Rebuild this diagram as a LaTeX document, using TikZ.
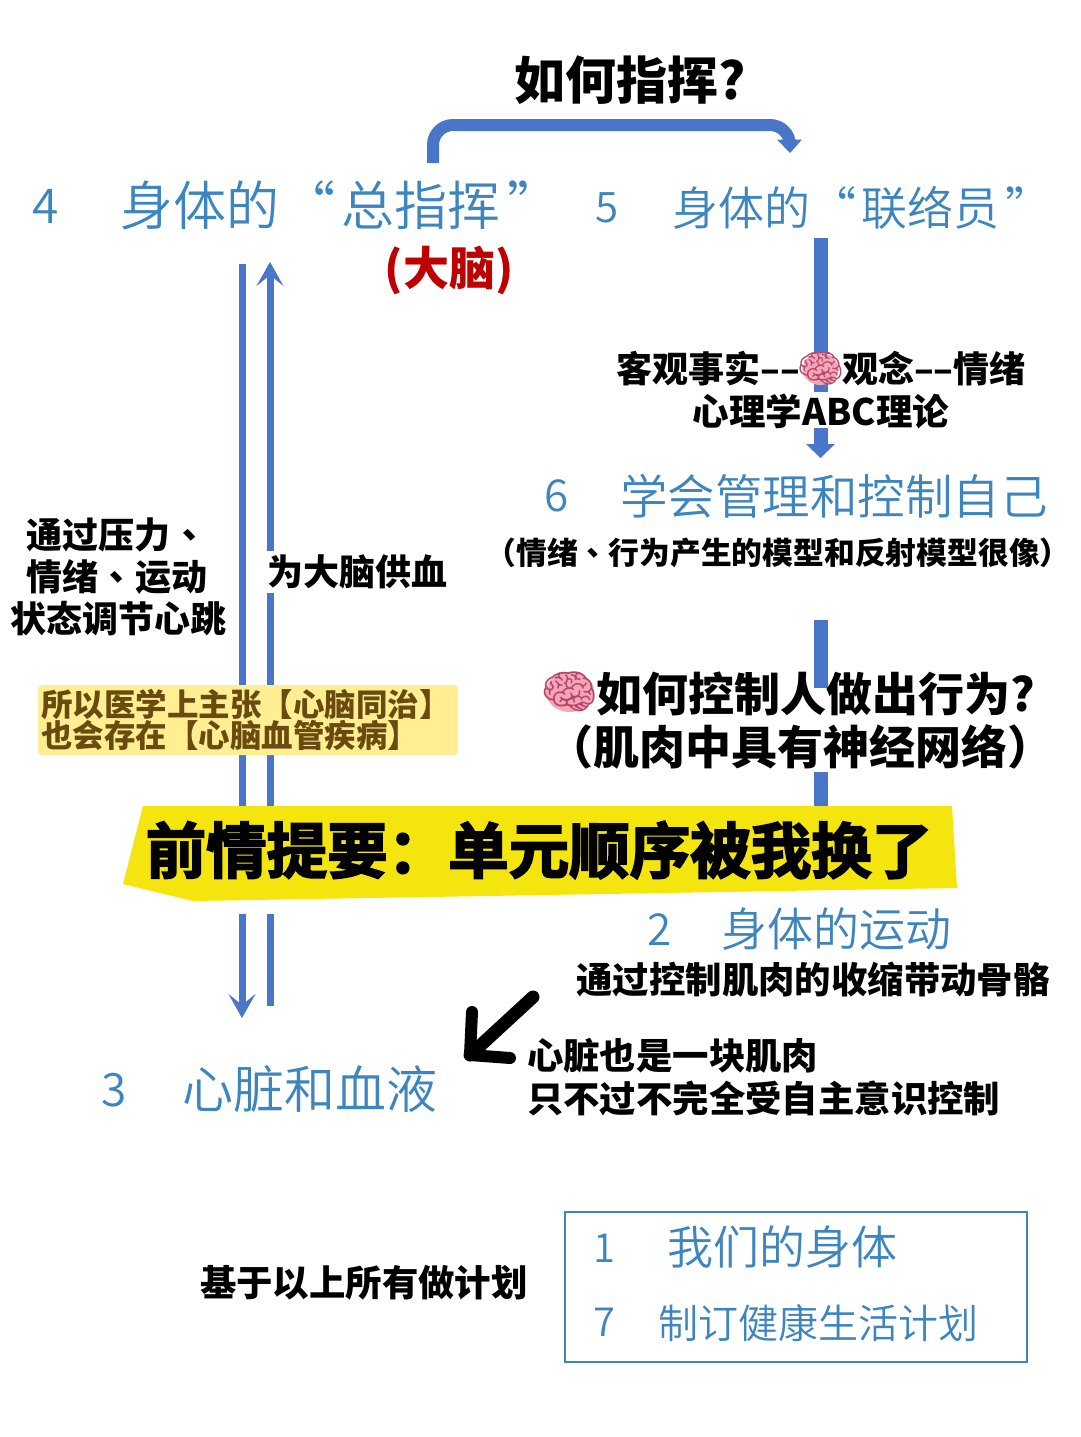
\documentclass[tikz,border=0pt]{standalone}
\usepackage{fontspec}
\usetikzlibrary{arrows.meta}
\newfontfamily\cjk{Noto Sans CJK SC}
\newfontfamily\cjklight{Noto Sans CJK SC DemiLight}
\newfontfamily\cjkheavy[FakeBold=3]{Noto Sans CJK SC Bold}
\newfontfamily\cjktc{Noto Sans CJK TC}
\newfontfamily\emojifont{Noto Emoji}
\definecolor{flow}{HTML}{4A76C9}
\definecolor{bluetext}{HTML}{3D85BE}
\definecolor{banner}{HTML}{F5E50F}
\definecolor{noteyellow}{HTML}{FFEE92}
\definecolor{notetext}{HTML}{6B4A10}
\definecolor{brainpink}{HTML}{F4A6B8}
\definecolor{braindark}{HTML}{B5486A}
\newcommand{\fs}[1]{\fontsize{#1}{#1}\selectfont}
\newcommand{\dun}{{\cjktc\bfseries 、}}
\tikzset{
  base/.style={inner sep=0pt,outer sep=0pt,align=center},
  bluelabel/.style={base,text=bluetext,font=\cjklight},
  black label/.style={base,text=black,font=\cjk\bfseries},
  flowline/.style={draw=flow,line width=#1},
  brainmark/.style={base,text=braindark,font=\emojifont},
  barbhead/.style={-{Stealth[length=24pt,width=27pt,inset=11pt]}},
}
\begin{document}
\begin{tikzpicture}[x=1pt,y=-1pt]
\useasboundingbox (0,0) rectangle (1080,1437);
\fill[white] (0,0) rectangle (1080,1437);

% ---- named anchor points of the connectors
\coordinate (boss top) at (433,163);
\coordinate (bar corner a) at (433,125);
\coordinate (bar corner b) at (790,125);
\coordinate (liaison top) at (790,153);
\coordinate (r1 start) at (820.5,238);
\coordinate (r1 break) at (820.5,392);
\coordinate (r1 resume) at (820.5,428);
\coordinate (r1 end) at (820.5,458);
\coordinate (r2 start) at (820.5,620);
\coordinate (r2 break) at (820.5,688);
\coordinate (r2 resume) at (820.5,772);
\coordinate (r2 end) at (820.5,808);
\coordinate (down top) at (242,264);
\coordinate (down mid) at (242,808);
\coordinate (down resume) at (242,914);
\coordinate (down end) at (242,1018);
\coordinate (up start) at (270,1006);
\coordinate (up resume) at (270,914);
\coordinate (up mid) at (270,808);
\coordinate (up gap a) at (270,593);
\coordinate (up gap b) at (270,551);
\coordinate (up end) at (270,262);
\coordinate (hint tail) at (533,997);
\coordinate (hint tip) at (470,1055);

% ---- connectors
\draw[flowline=12,rounded corners=20pt] (boss top) -- (bar corner a) -- (bar corner b) -- ([yshift=12pt]liaison top);
\fill[flow] (777,139.5) -- (802,139.5) -- (liaison top) -- cycle;
\draw[flowline=14] (r1 start) -- (r1 break);
\draw[flowline=14] (r1 resume) -- ([yshift=14pt]r1 end);
\fill[flow] (806,444) -- (835,444) -- (r1 end) -- cycle;
\draw[flowline=14] (r2 start) -- (r2 break);
\draw[flowline=14] (r2 resume) -- (r2 end);
\draw[flowline=7] (down top) -- (down mid);
\draw[flowline=7,barbhead] (down resume) -- (down end);
\draw[flowline=7] (up start) -- (up resume);
\draw[flowline=7] (up mid) -- (up gap a);
\draw[flowline=7,barbhead] (up gap b) -- (up end);

% ---- yellow note
\node[base,fill=noteyellow,rounded corners=4pt,minimum width=420pt,minimum height=70pt,anchor=north west] (note) at (38,685) {};
\node[base,anchor=west,text=notetext,font=\cjk\bfseries\fs{31.5},align=left] (note text) at (41,720)
  {所以医学上主张【心脑同治】\\[-1pt]也会存在【心脑血管疾病】};

% ---- banner
\fill[banner] (143,806) -- (952,806) -- (957,888) -- (193,901) -- (123,884) -- cycle;
\node[base,text=black,font=\cjkheavy\fs{60.5}] (banner text) at (539,850) {前情提要：单元顺序被我换了};

% ---- title and headings
\node[black label,font=\cjk\bfseries\fs{51}] (title) at (630,80) {如何指挥?};
\node[bluelabel,font=\cjklight\fs{48}] (n4) at (46,206) {4};
\node[bluelabel,font=\cjklight\fs{53},anchor=west] (h4) at (120,205) {身体的\hspace{4pt}“\hspace{6pt}总指挥\hspace{7pt}”};
\node[base,text=red!75!black,font=\cjk\bfseries\fs{46}] (brain label) at (449,270) {(大脑)};
\node[bluelabel,font=\cjklight\fs{42}] (n5) at (607,208) {5};
\node[bluelabel,font=\cjklight\fs{46},anchor=west] (h5) at (672,208) {身体的“\hspace{6pt}联络员\hspace{6pt}”};

\node[black label,font=\cjk\bfseries\fs{36},anchor=east] (abc a) at (800,369) {客观事实––};
\fill[brainpink] (820.5,369) ellipse (18 and 16);
\node[brainmark,font=\emojifont\fs{38}] (brain a) at (820.5,369) {🧠};
\node[black label,font=\cjk\bfseries\fs{36},anchor=west] (abc b) at (842,369) {观念––情绪};
\node[black label,font=\cjk\bfseries\fs{36.5}] (abc c) at (821,411) {心理学ABC理论};

\node[bluelabel,font=\cjklight\fs{44}] (n6) at (557,496) {6};
\node[bluelabel,font=\cjklight\fs{47.5},anchor=west] (h6) at (620,496) {学会管理和控制自己};
\node[black label,font=\cjk\bfseries\fs{30.8}] (h6 sub) at (778,553) {（情绪\dun 行为产生的模型和反射模型很像）};

\node[black label,font=\cjk\bfseries\fs{36},anchor=west] (l1) at (27,535) {通过压力\dun};
\node[black label,font=\cjk\bfseries\fs{36},anchor=west] (l2) at (27,577) {情绪\dun 运动};
\node[black label,font=\cjk\bfseries\fs{36},anchor=west] (l3) at (10,619) {状态调节心跳};
\node[black label,font=\cjk\bfseries\fs{36},anchor=west] (r1) at (267,572) {为大脑供血};

\fill[brainpink] (570,692) ellipse (24 and 20);
\node[brainmark,font=\emojifont\fs{46}] (brain b) at (570,692) {🧠};
\node[black label,font=\cjk\bfseries\fs{46},anchor=west] (q1) at (596,694) {如何控制人做出行为?};
\node[black label,font=\cjk\bfseries\fs{46}] (q2) at (800,747) {（肌肉中具有神经网络）};

\node[bluelabel,font=\cjklight\fs{44}] (n2) at (660,930) {2};
\node[bluelabel,font=\cjklight\fs{46},anchor=west] (h2) at (721,929) {身体的运动};
\node[black label,font=\cjk\bfseries\fs{36.4}] (h2 sub) at (813,980) {通过控制肌肉的收缩带动骨骼};

\draw[line width=13pt,line cap=round,line join=round] (hint tail) -- (hint tip);
\draw[line width=12pt,line cap=round,line join=round] (472,1012) -- (hint tip) -- (510,1058);
\node[black label,font=\cjk\bfseries\fs{36.4},anchor=west,align=left] (m1) at (527,1056) {心脏也是一块肌肉};
\node[black label,font=\cjk\bfseries\fs{36.4},anchor=west,align=left] (m2) at (527,1098) {只不过不完全受自主意识控制};

\node[bluelabel,font=\cjklight\fs{46}] (n3) at (114,1090) {3};
\node[bluelabel,font=\cjklight\fs{51},anchor=west] (h3) at (182,1089) {心脏和血液};

\node[black label,font=\cjk\bfseries\fs{36.4},anchor=west] (plan) at (200,1283) {基于以上所有做计划};

\node[base,draw=bluetext,line width=1.6pt,minimum width=462pt,minimum height=150pt,anchor=north west] (box) at (565,1212) {};
\node[bluelabel,font=\cjklight\fs{40}] (n1) at (604,1248) {1};
\node[bluelabel,font=\cjklight\fs{46},anchor=west] (h1) at (667,1247) {我们的身体};
\node[bluelabel,font=\cjklight\fs{40}] (n7) at (604,1322) {7};
\node[bluelabel,font=\cjklight\fs{40},anchor=west] (h7) at (658,1323) {制订健康生活计划};
\end{tikzpicture}
\end{document}
